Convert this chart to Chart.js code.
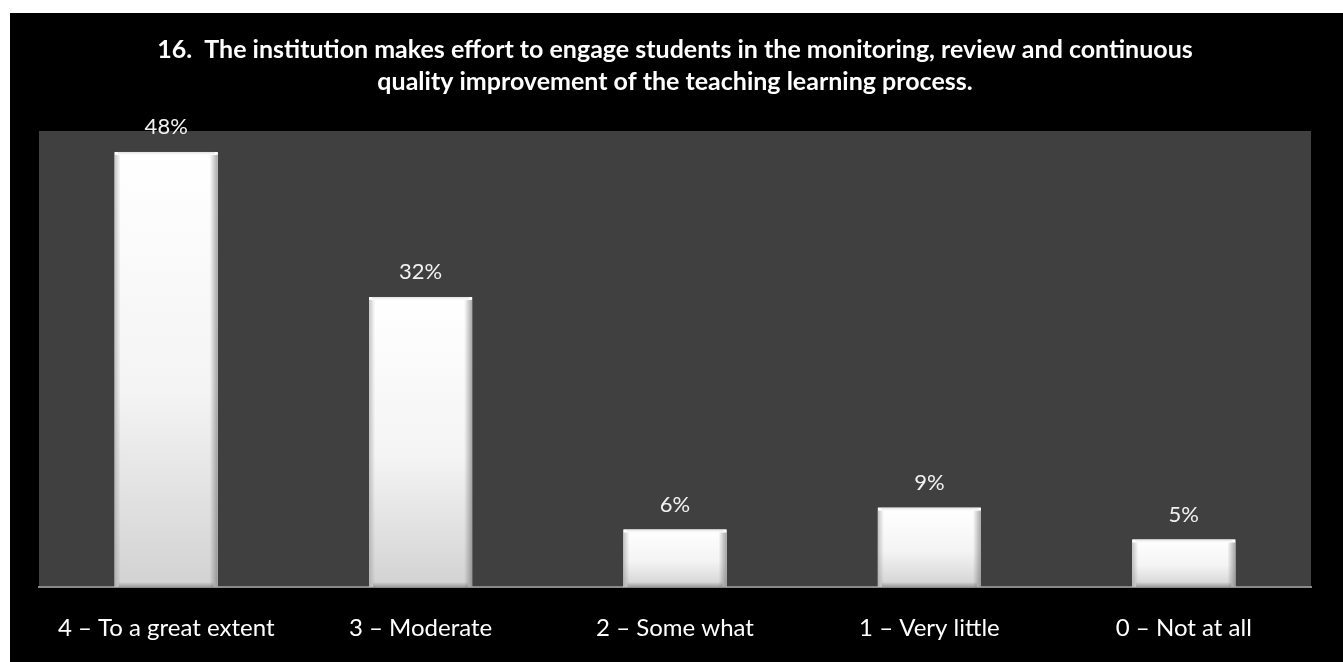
<!DOCTYPE html>
<html>
<head>
<meta charset="utf-8">
<script src="https://cdn.jsdelivr.net/npm/chart.js@4.4.0/dist/chart.umd.min.js"></script>
<style>
    html, body { margin: 0; padding: 0; background: #ffffff; }
    #wrap {
        position: absolute;
        left: 10px;
        top: 13px;
        width: 1333px;
        height: 649px;
        background: #000000;
    }
</style>
</head>
<body>
<div id="wrap"><canvas id="chart" width="1333" height="649"></canvas></div>
<script>
// chart data
const categories = ['4 – To a great extent', '3 – Moderate', '2 – Some what', '1 – Very little', '0 – Not at all'];
const percentages = [47.7, 31.8, 6.3, 8.7, 5.2];
const titleLines = [
    '16.  The institution makes effort to engage students in the monitoring, review and continuous',
    'quality improvement of the teaching learning process.'
];

const FONT = 'Lato, "Open Sans", sans-serif';

// dark grey plot area behind the bars
const plotBackground = {
    id: 'plotBackground',
    beforeDraw(chart) {
        const { ctx, chartArea } = chart;
        ctx.save();
        ctx.fillStyle = '#404040';
        ctx.fillRect(chartArea.left, chartArea.top, chartArea.right - chartArea.left, chartArea.bottom - chartArea.top);
        ctx.restore();
    }
};

// bevelled look on each bar + value labels above
const bevelAndLabels = {
    id: 'bevelAndLabels',
    afterDatasetsDraw(chart) {
        const { ctx } = chart;
        const meta = chart.getDatasetMeta(0);
        ctx.save();
        meta.data.forEach((bar, i) => {
            const left = bar.x - bar.width / 2;
            const right = bar.x + bar.width / 2;
            const top = bar.y;
            const bottom = bar.base;
            const h = bottom - top;

            // body gradient
            let g = ctx.createLinearGradient(0, top, 0, bottom);
            g.addColorStop(0, '#ffffff');
            g.addColorStop(0.55, '#f4f4f4');
            g.addColorStop(1, '#d2d2d2');
            ctx.fillStyle = g;
            ctx.fillRect(left, top, right - left, h);

            // left edge
            g = ctx.createLinearGradient(left, 0, left + 6, 0);
            g.addColorStop(0, 'rgba(150,150,150,0.55)');
            g.addColorStop(1, 'rgba(150,150,150,0)');
            ctx.fillStyle = g;
            ctx.fillRect(left, top + 3, 6, h - 3);

            // right edge
            g = ctx.createLinearGradient(right - 8, 0, right, 0);
            g.addColorStop(0, 'rgba(110,110,110,0)');
            g.addColorStop(1, 'rgba(110,110,110,0.6)');
            ctx.fillStyle = g;
            ctx.fillRect(right - 8, top + 3, 8, h - 3);

            // bottom edge
            g = ctx.createLinearGradient(0, bottom - 5, 0, bottom);
            g.addColorStop(0, 'rgba(110,110,110,0)');
            g.addColorStop(1, 'rgba(110,110,110,0.55)');
            ctx.fillStyle = g;
            ctx.fillRect(left + 4, bottom - 5, right - left - 8, 5);

            // top edge
            g = ctx.createLinearGradient(0, top, 0, top + 4);
            g.addColorStop(0, 'rgba(200,200,200,0.6)');
            g.addColorStop(1, 'rgba(255,255,255,0)');
            ctx.fillStyle = g;
            ctx.fillRect(left + 3, top, right - left - 6, 4);

            // value label
            ctx.fillStyle = '#f2f2f2';
            ctx.font = '22px ' + FONT;
            ctx.textAlign = 'center';
            ctx.textBaseline = 'middle';
            ctx.fillText(Math.round(percentages[i]) + '%', bar.x, top - 25);
        });
        ctx.restore();
    }
};

new Chart(document.getElementById('chart'), {
    type: 'bar',
    data: {
        labels: categories,
        datasets: [{
            data: percentages,
            backgroundColor: '#f4f4f4',
            borderWidth: 0,
            categoryPercentage: 1,
            barPercentage: 0.405
        }]
    },
    options: {
        responsive: false,
        animation: false,
        layout: {
            padding: { left: 29, right: 32, top: 0, bottom: 0 }
        },
        plugins: {
            legend: { display: false },
            tooltip: { enabled: false },
            title: {
                display: true,
                text: titleLines,
                color: '#ffffff',
                font: { family: FONT, size: 25, weight: 'bold', lineHeight: 1.28 },
                padding: { top: 21, bottom: 33 }
            }
        },
        scales: {
            x: {
                z: 1,
                grid: { display: false, drawTicks: false },
                border: { display: true, color: '#8a8a8a', width: 2 },
                ticks: {
                    color: '#ffffff',
                    padding: 27,
                    maxRotation: 0,
                    font: { family: FONT, size: 24 }
                },
                afterFit(scale) {
                    scale.height = 75;
                }
            },
            y: {
                display: false,
                min: 0,
                max: 50
            }
        }
    },
    plugins: [plotBackground, bevelAndLabels]
});
</script>
</body>
</html>
